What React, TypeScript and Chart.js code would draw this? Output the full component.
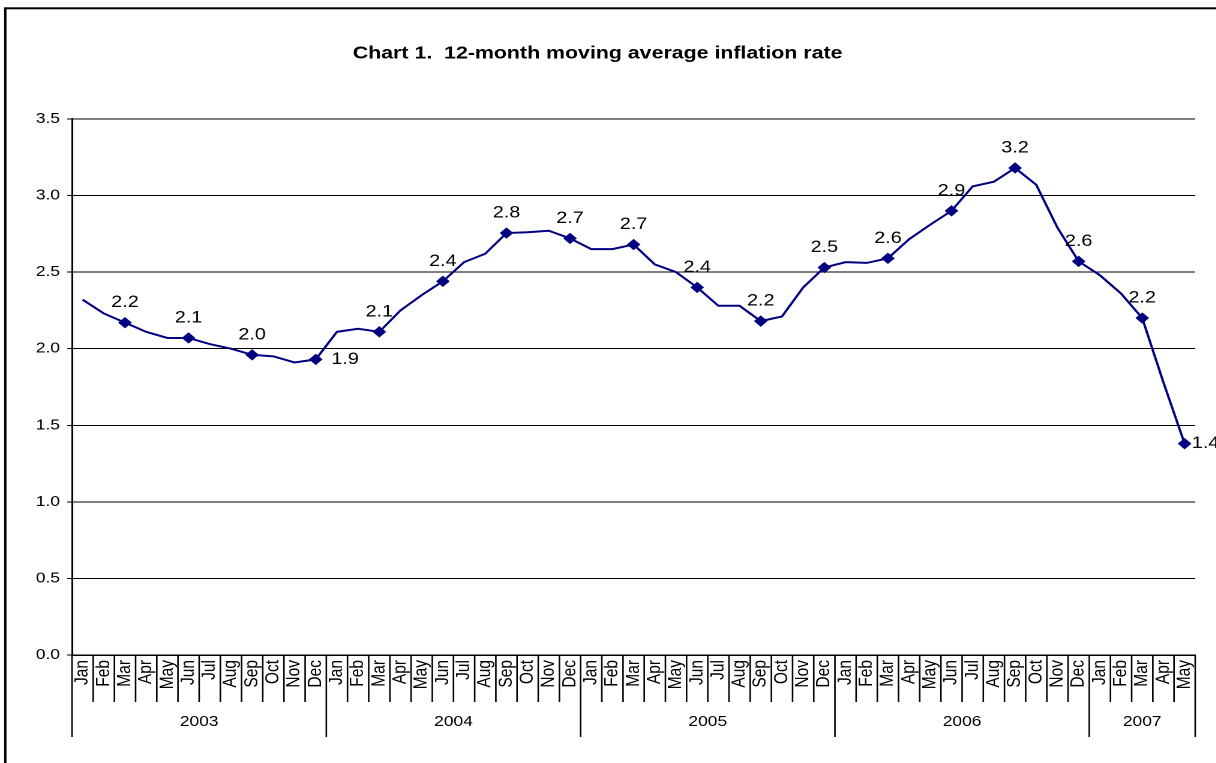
import React, { useEffect, useRef } from 'react';
import { Chart, registerables } from 'chart.js';

Chart.register(...registerables);

// ---- data ----
const MONTHS = ['Jan', 'Feb', 'Mar', 'Apr', 'May', 'Jun', 'Jul', 'Aug', 'Sep', 'Oct', 'Nov', 'Dec'];
const YEARS = ['2003', '2004', '2005', '2006', '2007'];
const MONTHS_PER_YEAR = [12, 12, 12, 12, 5];
const INFLATION = [
  // 2003
  2.32, 2.23, 2.17, 2.11, 2.07, 2.07, 2.03, 2.0, 1.96, 1.95, 1.91, 1.93,
  // 2004
  2.11, 2.13, 2.11, 2.25, 2.35, 2.44, 2.565, 2.62, 2.755, 2.76, 2.77, 2.72,
  // 2005
  2.65, 2.65, 2.68, 2.55, 2.5, 2.4, 2.28, 2.28, 2.18, 2.21, 2.4, 2.53,
  // 2006
  2.565, 2.56, 2.59, 2.715, 2.81, 2.9, 3.06, 3.09, 3.18, 3.07, 2.79, 2.57,
  // 2007
  2.48, 2.36, 2.2, 1.78, 1.38,
];
const Y_MIN = 0;
const Y_MAX = 3.5;
const Y_STEP = 0.5;
const TITLE = 'Chart 1.  12-month moving average inflation rate';

const CATEGORIES = YEARS.flatMap((_, yi) => MONTHS.slice(0, MONTHS_PER_YEAR[yi]));

// ---- style ----
const FONT = "'Liberation Sans', Arial, sans-serif";
const LINE_COLOR = '#000080';
const STRETCH = 1.2;
const CANVAS_W = 1014;
const CANVAS_H = 763;
// labels placed to the right of the marker (index -> x offset)
const LABEL_RIGHT: Record<number, number> = { 11: 13, 52: 6 };

const isMarked = (i: number) => i % 3 === 2 || i === INFLATION.length - 1;

const framePlugin = {
  id: 'frame',
  beforeDraw(chart: any) {
    const ctx = chart.ctx;
    ctx.save();
    ctx.fillStyle = '#fff';
    ctx.fillRect(0, 0, chart.width, chart.height);
    ctx.strokeStyle = '#000';
    ctx.lineWidth = 2;
    ctx.strokeRect(4.4, 8.3, chart.width + 100, chart.height + 100);
    ctx.restore();
  },
};

const groupAxisPlugin = {
  id: 'groupAxis',
  afterDraw(chart: any) {
    const ctx = chart.ctx;
    const x = chart.scales.x;
    const top = chart.chartArea.bottom;
    const n = CATEGORIES.length;
    const step = x.getPixelForValue(1) - x.getPixelForValue(0);
    const yearStarts = new Set<number>();
    let acc = 0;
    MONTHS_PER_YEAR.forEach((c) => {
      yearStarts.add(acc);
      acc += c;
    });
    yearStarts.add(acc);
    ctx.save();
    ctx.strokeStyle = '#000';
    ctx.lineWidth = 1.3;
    for (let i = 0; i <= n; i++) {
      const bx = i < n ? x.getPixelForValue(i) - step / 2 : x.getPixelForValue(n - 1) + step / 2;
      const isYear = yearStarts.has(i);
      ctx.beginPath();
      ctx.moveTo(bx, top);
      ctx.lineTo(bx, top + (isYear ? 82 : 47));
      ctx.stroke();
    }
    ctx.fillStyle = '#000';
    ctx.font = `14.5px ${FONT}`;
    ctx.textAlign = 'center';
    ctx.textBaseline = 'middle';
    let s = 0;
    YEARS.forEach((yr, yi) => {
      const e = s + MONTHS_PER_YEAR[yi] - 1;
      const cx = (x.getPixelForValue(s) + x.getPixelForValue(e)) / 2;
      ctx.fillText(yr, cx, top + 67);
      s = e + 1;
    });
    ctx.restore();
  },
};

const dataLabelPlugin = {
  id: 'dataLabels',
  afterDatasetsDraw(chart: any) {
    const ctx = chart.ctx;
    const meta = chart.getDatasetMeta(0);
    ctx.save();
    ctx.fillStyle = '#000';
    ctx.font = `16.5px ${FONT}`;
    ctx.textBaseline = 'middle';
    INFLATION.forEach((v, i) => {
      if (!isMarked(i)) return;
      const pt = meta.data[i];
      const txt = v.toFixed(1);
      if (LABEL_RIGHT[i] !== undefined) {
        ctx.textAlign = 'left';
        ctx.fillText(txt, pt.x + LABEL_RIGHT[i], pt.y);
      } else {
        ctx.textAlign = 'center';
        ctx.fillText(txt, pt.x, pt.y - 20);
      }
    });
    ctx.restore();
  },
};

export default function App() {
  const ref = useRef<HTMLCanvasElement | null>(null);

  useEffect(() => {
    if (!ref.current) return;
    const chart = new Chart(ref.current, {
      type: 'line',
      data: {
        labels: CATEGORIES,
        datasets: [
          {
            data: INFLATION,
            borderColor: LINE_COLOR,
            backgroundColor: LINE_COLOR,
            borderWidth: 2,
            tension: 0,
            pointStyle: 'rectRot',
            pointRadius: (c: any) => (isMarked(c.dataIndex) ? 5 : 0),
            pointHoverRadius: (c: any) => (isMarked(c.dataIndex) ? 5 : 0),
            pointBorderWidth: 1,
            pointBackgroundColor: LINE_COLOR,
            pointBorderColor: LINE_COLOR,
          },
        ],
      },
      options: {
        animation: false,
        responsive: false,
        devicePixelRatio: 2,
        layout: { padding: { left: 0, right: 18, top: 0, bottom: 0 } },
        plugins: {
          legend: { display: false },
          tooltip: { enabled: false },
          title: {
            display: true,
            text: TITLE,
            color: '#000',
            font: { family: FONT, size: 17.8, weight: 'bold', lineHeight: 1.2 },
            padding: { top: 43, bottom: 54.6 },
          },
        },
        scales: {
          x: {
            type: 'category',
            offset: true,
            grid: { display: false, drawTicks: false },
            border: { display: true, color: '#000', width: 1.5 },
            ticks: {
              autoSkip: false,
              maxRotation: 90,
              minRotation: 90,
              padding: 5,
              color: '#000',
              font: { family: FONT, size: 15.5 },
            },
            afterFit: (s: any) => {
              s.height = 108;
            },
          },
          y: {
            min: Y_MIN,
            max: Y_MAX,
            ticks: {
              stepSize: Y_STEP,
              color: '#000',
              padding: 6,
              font: { family: FONT, size: 14.5 },
              callback: (v: any) => Number(v).toFixed(1),
            },
            grid: { color: '#000', lineWidth: 1, tickLength: 4, drawTicks: true },
            border: { display: true, color: '#000', width: 1.5 },
            afterFit: (s: any) => {
              s.width = 60;
            },
          },
        },
      },
      plugins: [framePlugin, groupAxisPlugin, dataLabelPlugin],
    } as any);
    return () => chart.destroy();
  }, []);

  return (
    <div
      style={{
        position: 'absolute',
        left: 0,
        top: 0,
        width: CANVAS_W,
        height: CANVAS_H,
        transform: `scaleX(${STRETCH})`,
        transformOrigin: '0 0',
      }}
    >
      <canvas
        ref={ref}
        width={CANVAS_W}
        height={CANVAS_H}
        style={{ width: CANVAS_W, height: CANVAS_H, display: 'block' }}
      />
    </div>
  );
}
